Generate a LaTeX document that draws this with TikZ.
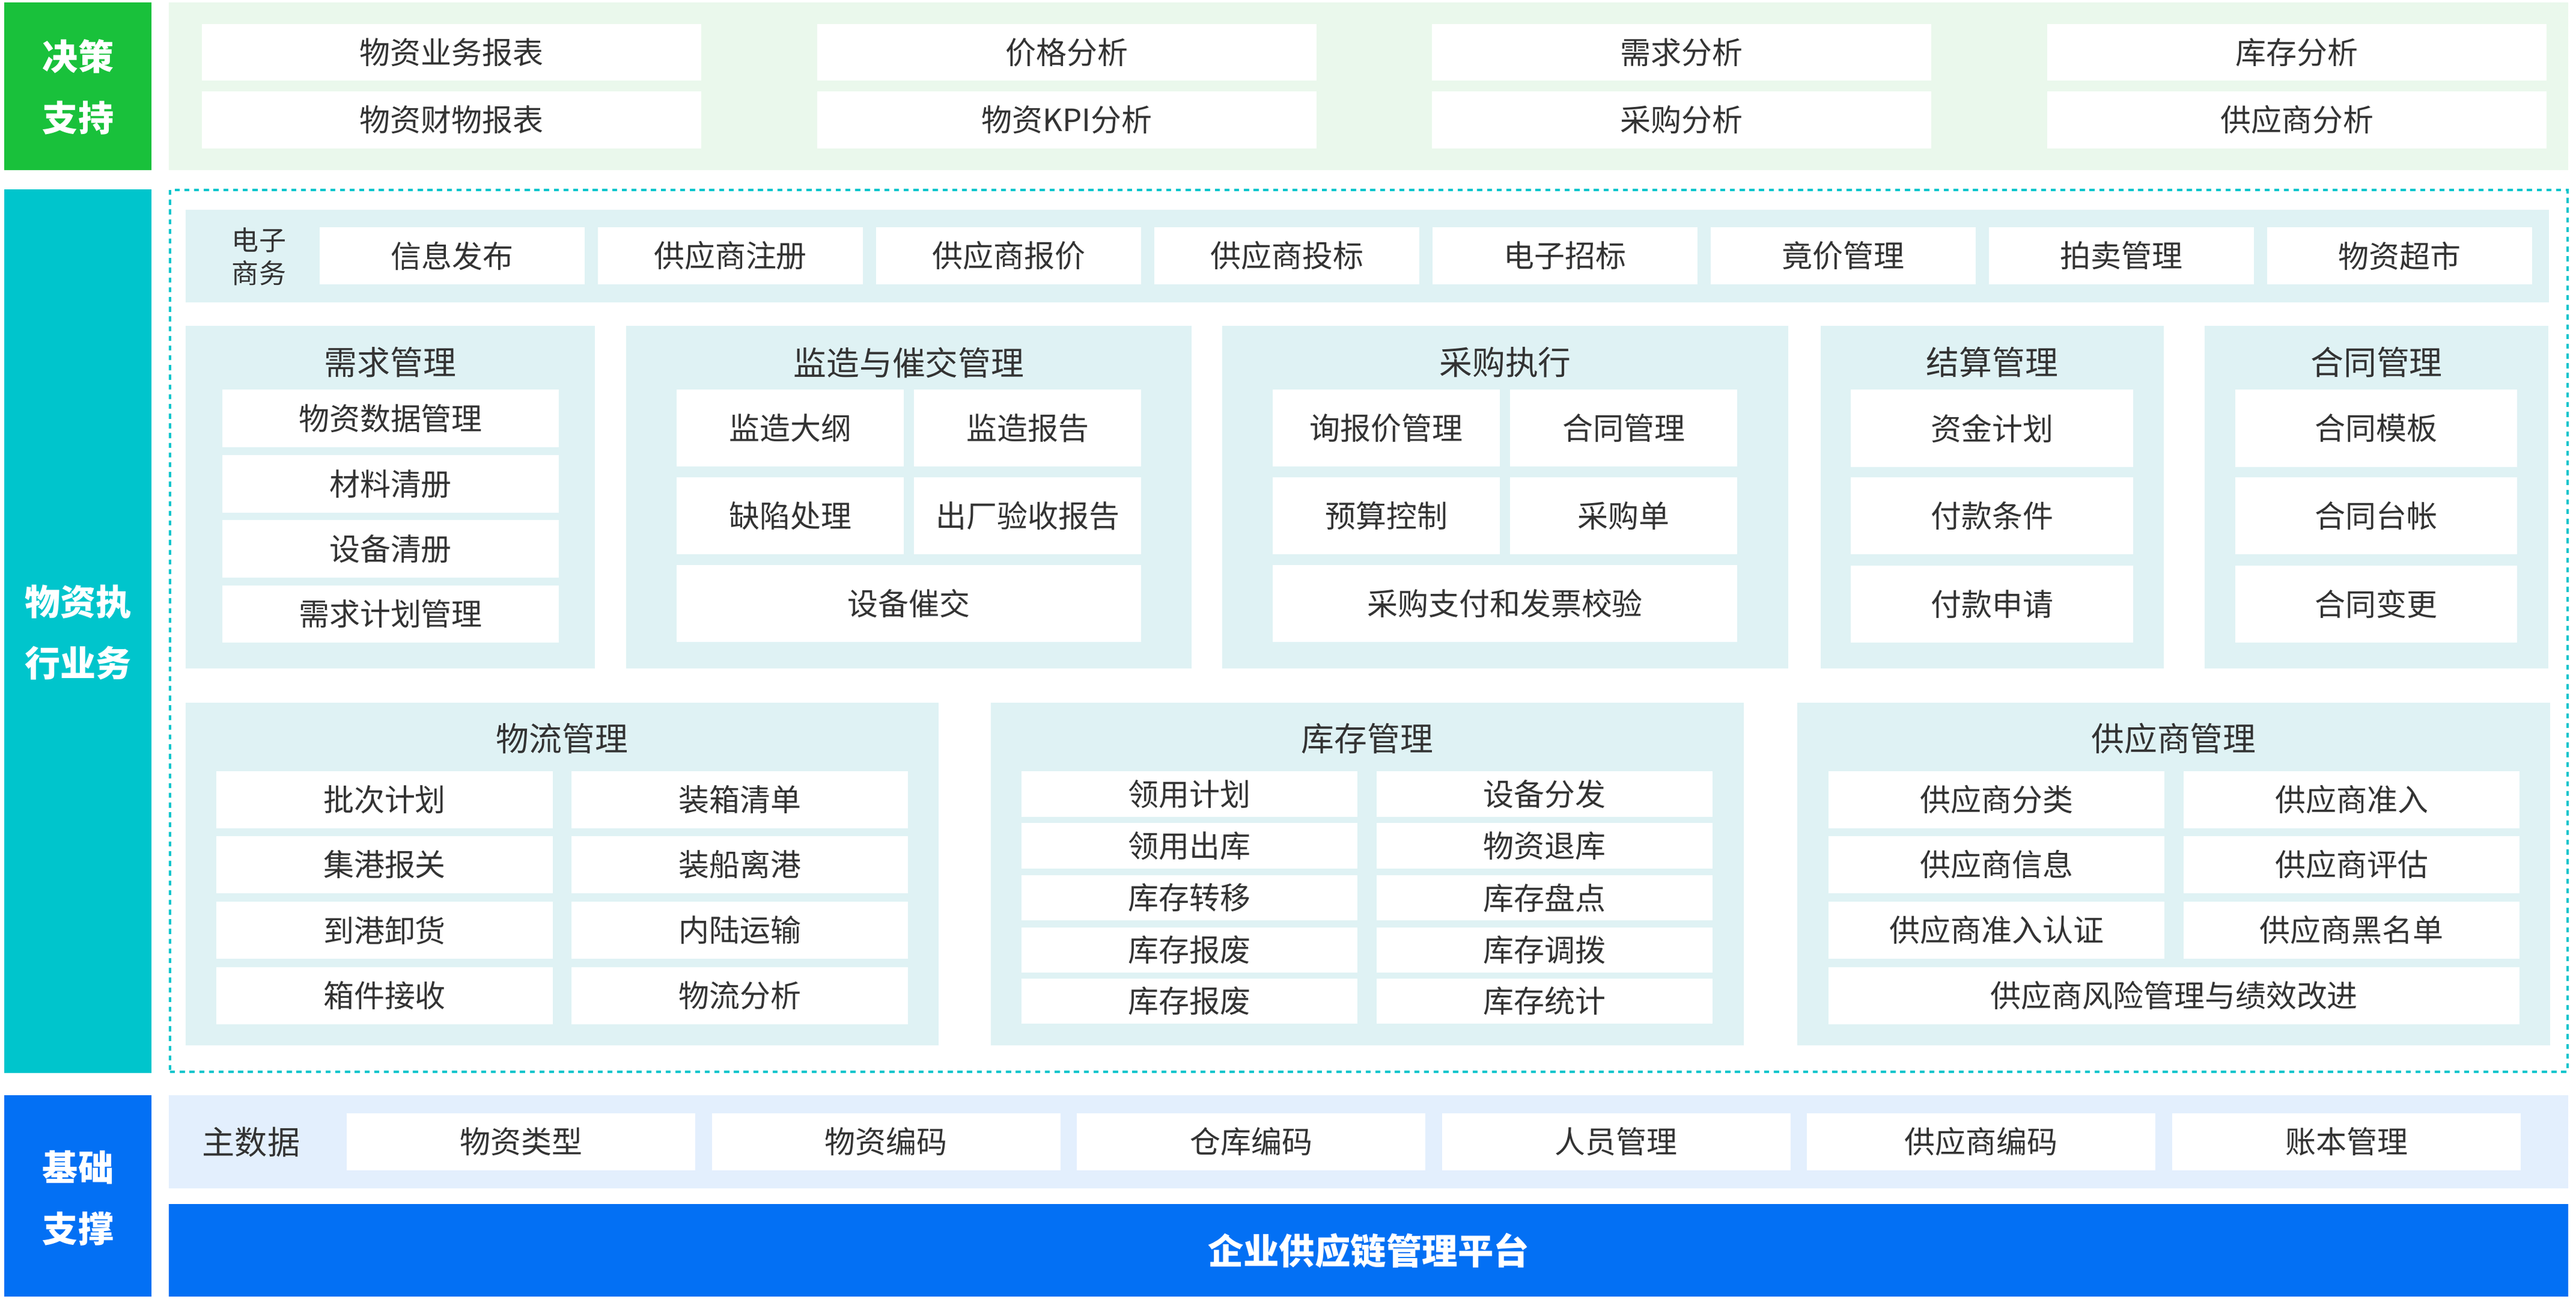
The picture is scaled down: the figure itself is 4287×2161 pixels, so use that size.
\documentclass[tikz,border=0pt]{standalone}
\usepackage{fontspec}
\setmainfont{Noto Sans CJK SC}
\definecolor{cgreen}{HTML}{19C13B}
\definecolor{cgreenbg}{HTML}{EAF8EC}
\definecolor{cteal}{HTML}{00C5CC}
\definecolor{ctealbg}{HTML}{DFF2F4}
\definecolor{cblue}{HTML}{0370F4}
\definecolor{cbluebg}{HTML}{E3EFFD}
\definecolor{ctext}{HTML}{333333}
\newcommand\mybox[7]{\node[#1, minimum width={((#5)-(#3))*0.01cm}, minimum height={((#6)-(#4))*0.01cm}] (#2) at ({((#3)+(#5))/2},{((#4)+(#6))/2}) {#7};}
\tikzset{
  base/.style={rectangle, inner sep=0pt, outer sep=0pt, draw=none},
  wbox/.style={base, fill=white, text=ctext, font=\fontsize{14.5}{17}\selectfont},
  panel/.style={base, fill=ctealbg},
  ttl/.style={base, text=ctext, font=\fontsize{15.6}{18}\selectfont},
  sidelab/.style={base, text=white, align=center, font=\bfseries\fontsize{16.8}{29}\selectfont},
  dashframe/.style={base, draw=cteal, line width=1.1pt, dash pattern=on 2.4pt off 2.2pt},
}
\begin{document}
\begin{tikzpicture}[x=0.01cm,y=-0.01cm]
\useasboundingbox (0,0) rectangle (4287,2161);
% ---------- side labels ----------
\mybox{base,fill=cgreen}{Lg}{7}{4}{252}{283}{}
\node[sidelab] (Lgt) at (130,145) {决策\\支持};
\mybox{base,fill=cteal}{Lt}{7}{315}{252}{1785}{}
\node[sidelab] (Ltt) at (130,1052) {物资执\\行业务};
\mybox{base,fill=cblue}{Lb}{7}{1822}{252}{2157}{}
\node[sidelab] (Lbt) at (130,1993) {基础\\支撑};
% ---------- decision support ----------
\mybox{base,fill=cgreenbg}{dec}{281}{4}{4274}{283}{}
\foreach \i/\t in {0/物资业务报表,1/价格分析,2/需求分析,3/库存分析}
  {\mybox{wbox}{da\i}{336+\i*1023.7}{40}{1167+\i*1023.7}{134}{\t}}
\foreach \i/\t in {0/物资财物报表,1/物资KPI分析,2/采购分析,3/供应商分析}
  {\mybox{wbox}{db\i}{336+\i*1023.7}{152}{1167+\i*1023.7}{247}{\t}}
% ---------- execution frame ----------
\mybox{dashframe}{exec}{283}{316}{4273}{1783}{}
% e-commerce
\mybox{panel}{ecom}{309}{349}{4242}{503}{}
\node[base, text=ctext, align=center, font=\fontsize{12.8}{15.6}\selectfont] (ecomt) at (431,427) {电子\\商务};
\foreach \i/\t in {0/信息发布,1/供应商注册,2/供应商报价,3/供应商投标,4/电子招标,5/竟价管理,6/拍卖管理,7/物资超市}
  {\mybox{wbox}{e\i}{532+\i*463}{378}{973+\i*463}{473}{\t}}
% row 1 panels
\mybox{panel}{pxq}{309}{542}{990}{1112}{}
\node[ttl] (txq) at (649.5,603) {需求管理};
\mybox{wbox}{xq1}{370}{648}{930}{744}{物资数据管理}
\mybox{wbox}{xq2}{370}{757}{930}{853}{材料清册}
\mybox{wbox}{xq3}{370}{865}{930}{961}{设备清册}
\mybox{wbox}{xq4}{370}{974}{930}{1069}{需求计划管理}

\mybox{panel}{pjz}{1042}{542}{1983}{1112}{}
\node[ttl] (tjz) at (1512.5,603) {监造与催交管理};
\mybox{wbox}{jz1}{1126}{648}{1504}{776}{监造大纲}
\mybox{wbox}{jz2}{1521}{648}{1899}{776}{监造报告}
\mybox{wbox}{jz3}{1126}{794}{1504}{922}{缺陷处理}
\mybox{wbox}{jz4}{1521}{794}{1899}{922}{出厂验收报告}
\mybox{wbox}{jz5}{1126}{940}{1899}{1068}{设备催交}

\mybox{panel}{pcg}{2034}{542}{2976}{1112}{}
\node[ttl] (tcg) at (2505,603) {采购执行};
\mybox{wbox}{cg1}{2118}{648}{2496}{776}{询报价管理}
\mybox{wbox}{cg2}{2513}{648}{2891}{776}{合同管理}
\mybox{wbox}{cg3}{2118}{794}{2496}{922}{预算控制}
\mybox{wbox}{cg4}{2513}{794}{2891}{922}{采购单}
\mybox{wbox}{cg5}{2118}{940}{2891}{1068}{采购支付和发票校验}

\mybox{panel}{pjs}{3030}{542}{3601}{1112}{}
\node[ttl] (tjs) at (3315.5,603) {结算管理};
\mybox{wbox}{js1}{3080}{648}{3550}{777}{资金计划}
\mybox{wbox}{js2}{3080}{794}{3550}{922}{付款条件}
\mybox{wbox}{js3}{3080}{941}{3550}{1069}{付款申请}

\mybox{panel}{pht}{3669}{542}{4241}{1112}{}
\node[ttl] (tht) at (3955,603) {合同管理};
\mybox{wbox}{ht1}{3720}{648}{4189}{777}{合同模板}
\mybox{wbox}{ht2}{3720}{794}{4189}{922}{合同台帐}
\mybox{wbox}{ht3}{3720}{941}{4189}{1069}{合同变更}
% row 2 panels
\mybox{panel}{pwl}{309}{1169}{1562}{1739}{}
\node[ttl] (twl) at (935.5,1229) {物流管理};
\mybox{wbox}{wl1}{360}{1283}{920}{1378}{批次计划}
\mybox{wbox}{wl2}{951}{1283}{1511}{1378}{装箱清单}
\mybox{wbox}{wl3}{360}{1391}{920}{1486}{集港报关}
\mybox{wbox}{wl4}{951}{1391}{1511}{1486}{装船离港}
\mybox{wbox}{wl5}{360}{1500}{920}{1595}{到港卸货}
\mybox{wbox}{wl6}{951}{1500}{1511}{1595}{内陆运输}
\mybox{wbox}{wl7}{360}{1609}{920}{1704}{箱件接收}
\mybox{wbox}{wl8}{951}{1609}{1511}{1704}{物流分析}

\mybox{panel}{pkc}{1649}{1169}{2902}{1739}{}
\node[ttl] (tkc) at (2275.5,1229) {库存管理};
\mybox{wbox}{kc1}{1700}{1283}{2259}{1359}{领用计划}
\mybox{wbox}{kc2}{2291}{1283}{2850}{1359}{设备分发}
\mybox{wbox}{kc3}{1700}{1369}{2259}{1445}{领用出库}
\mybox{wbox}{kc4}{2291}{1369}{2850}{1445}{物资退库}
\mybox{wbox}{kc5}{1700}{1456}{2259}{1531}{库存转移}
\mybox{wbox}{kc6}{2291}{1456}{2850}{1531}{库存盘点}
\mybox{wbox}{kc7}{1700}{1543}{2259}{1618}{库存报废}
\mybox{wbox}{kc8}{2291}{1543}{2850}{1618}{库存调拨}
\mybox{wbox}{kc9}{1700}{1628}{2259}{1703}{库存报废}
\mybox{wbox}{kc10}{2291}{1628}{2850}{1703}{库存统计}

\mybox{panel}{pgy}{2991}{1169}{4244}{1739}{}
\node[ttl] (tgy) at (3617.5,1229) {供应商管理};
\mybox{wbox}{gy1}{3043}{1283}{3602}{1378}{供应商分类}
\mybox{wbox}{gy2}{3634}{1283}{4193}{1378}{供应商准入}
\mybox{wbox}{gy3}{3043}{1391}{3602}{1486}{供应商信息}
\mybox{wbox}{gy4}{3634}{1391}{4193}{1486}{供应商评估}
\mybox{wbox}{gy5}{3043}{1500}{3602}{1595}{供应商准入认证}
\mybox{wbox}{gy6}{3634}{1500}{4193}{1595}{供应商黑名单}
\mybox{wbox}{gy7}{3043}{1609}{4193}{1704}{供应商风险管理与绩效改进}
% ---------- foundation ----------
\mybox{base,fill=cbluebg}{master}{281}{1822}{4274}{1977}{}
\node[base, text=ctext, font=\fontsize{15.4}{18}\selectfont] (mastert) at (418,1900) {主数据};
\foreach \i/\t in {0/物资类型,1/物资编码,2/仓库编码,3/人员管理,4/供应商编码,5/账本管理}
  {\mybox{wbox}{m\i}{577+\i*607.6}{1852}{1157+\i*607.6}{1947}{\t}}
\mybox{base,fill=cblue,text=white,font=\bfseries\fontsize{16.9}{20}\selectfont}{plat}{281}{2003}{4274}{2157}{企业供应链管理平台}
\end{tikzpicture}
\end{document}
